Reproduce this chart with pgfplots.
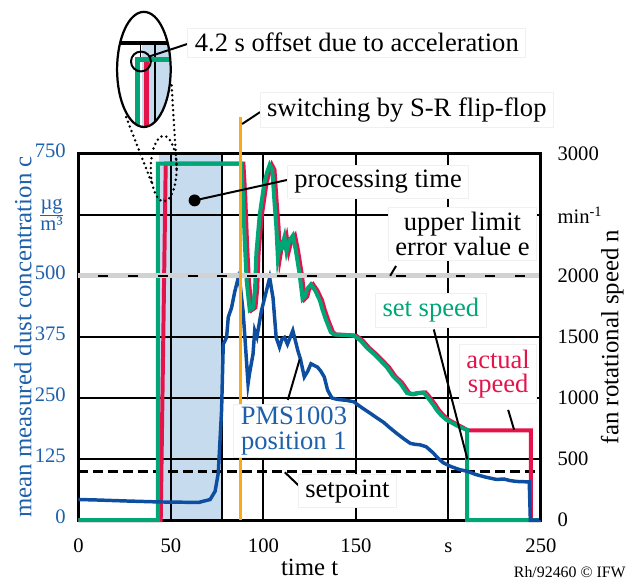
\documentclass[border=0pt]{standalone}
\usepackage{fontspec}
\setmainfont{Liberation Serif}
\usepackage{pgfplots}
\pgfplotsset{compat=1.18}
\definecolor{cgreen}{RGB}{0,166,118}
\definecolor{cred}{RGB}{228,20,75}
\definecolor{cblue}{RGB}{13,78,160}
\definecolor{tblue}{RGB}{30,96,170}
\definecolor{corange}{RGB}{250,170,20}
\definecolor{cshade}{RGB}{198,219,238}
\tikzset{
  lbl/.style={fill=white, draw=gray!12, inner xsep=2.8pt, inner ysep=2pt,
    font=\fontsize{10.7}{10}\selectfont, align=center},
  ptr/.style={black, line width=0.8pt},
  dots/.style={line width=1.1pt, line cap=round, dash pattern=on 0pt off 2pt},
}
\begin{document}
\begin{tikzpicture}
\begin{axis}[
  set layers,
  scale only axis, width=186.4pt, height=147.6pt,
  xmin=0, xmax=250, ymin=0, ymax=750,
  clip=false,
  axis line style={line width=1.2pt},
  grid=major, major grid style={black, line width=0.8pt},
  major tick length=0pt,
  xtick={0,50,100,150,200,250},
  xticklabels={0,50,100,150,s,250},
  ytick={0,125,250,375,500,625,750},
  yticklabels={0,125,250,375,500,{$\frac{\mbox{µg}}{\mbox{m³}}$},750},
  /pgf/number format/assume math mode=true,
  typeset ticklabels with strut,
  every tick label/.append style={font=\fontsize{8.3}{8}\selectfont},
  xticklabel style={yshift=-4pt},
  yticklabel style={text=tblue, xshift=-1.6pt},
  label style={font=\fontsize{10.7}{12}\selectfont, inner sep=0pt},
  every axis x label/.style={at={(rel axis cs:0.5,-0.130)}, anchor=center},
  every axis y label/.style={at={(rel axis cs:-0.12,0.5)}, rotate=90, anchor=center},
  xlabel={time t},
  ylabel={mean measured dust concentration c},
  ylabel style={text=tblue},
]
% processing time region
\addplot[draw=none, fill=cshade, on layer=axis background] coordinates {(43.5,0) (43.5,750) (77.4,750) (77.4,0)} -- cycle;
\addplot[black, line width=0.8pt] coordinates {(77.4,0) (77.4,750)};
% setpoint
\addplot[black, line width=1.1pt, dash pattern=on 4pt off 2pt] coordinates {(0,100) (250,100)};
% actual speed (rpm)
\addplot[cred, line width=1.6pt, y filter/.expression={y/4}] coordinates {
(0,0) (44.5,0) (47.2,2920) (89.2,2920) (90.2,2650) (91.2,2250) (92.2,1950) (93.8,1720)
(95.7,1740) (96.7,1900) (97.4,2190) (99.2,2500) (101.7,2760) (103.2,2850) (104.6,2910)
(106,2870) (107.2,2600) (108.2,2400) (109,2150) (110.2,2260) (111.2,2240) (112.6,2320)
(113.7,2200) (114.7,2260) (115.7,2300) (117.1,2330) (118.7,2210) (120.7,2020) (122.4,1810)
(123.7,1830) (124.7,1890) (126.9,1930) (129.2,1880) (131.7,1800) (133.2,1720) (135,1640)
(137.6,1540) (139.2,1520) (146.2,1515) (150.2,1510) (153.7,1470) (157.2,1410) (160.9,1360)
(164.2,1310) (168,1250) (171.2,1180) (175.2,1120) (178.8,1040) (181.2,1030) (184.2,1040)
(187.7,1045) (189.2,1020) (191.2,980) (193.2,940) (194.9,900) (197.2,860) (200.2,820)
(203.2,795) (205.6,775) (208.2,755) (210.1,735) (244.6,735) (244.6,0) (250,0)};
% set speed (rpm)
\addplot[cgreen, line width=1.6pt, y filter/.expression={y/4}] coordinates {
(0,0) (42.9,0) (42.9,2920) (88,2920) (89,2650) (90,2250) (91,1950) (92.6,1720)
(94.5,1740) (95.5,1900) (96.2,2190) (98,2500) (100.5,2760) (102,2850) (103.4,2910)
(104.8,2870) (106,2600) (107,2400) (107.8,2150) (109,2260) (110,2240) (111.4,2320)
(112.5,2200) (113.5,2260) (114.5,2300) (115.9,2330) (117.5,2210) (119.5,2020) (121.2,1810)
(122.5,1830) (123.5,1890) (125.7,1930) (128,1880) (130.5,1800) (132,1720) (133.8,1640)
(136.4,1540) (138,1520) (145,1515) (149,1510) (152.5,1470) (156,1410) (159.7,1360)
(163,1310) (166.8,1250) (170,1180) (174,1120) (177.6,1040) (180,1030) (183,1040)
(186.5,1045) (188,1020) (190,980) (192,940) (193.7,900) (196,860) (199,820)
(202,795) (204.4,775) (207,755) (210.1,740) (210.1,0) (250,0)};
% PMS1003 position 1
\addplot[cblue, line width=1.4pt] coordinates {
(0,42) (10,41) (25.6,39) (43.5,37) (65,36) (71.2,42) (73.9,59) (75.6,96) (76.5,160)
(77.4,225) (78.3,360) (80.1,374) (81,415) (82.8,435) (84.6,469) (86.4,496) (87.5,480)
(89,428) (90,374) (91.7,279) (92.5,300) (94.4,340) (95.3,388) (96.5,375) (98.9,428)
(101.6,469) (103.4,496) (105.2,455) (106.9,374) (108.7,354) (110,370) (111.4,374)
(113,360) (115.9,388) (118.6,347) (120,330) (122.1,293) (124,305) (125.7,320) (129.3,313)
(131,305) (132.9,293) (134.7,266) (137,250) (140,247) (145,245) (149,242) (151,236) (154,228)
(158,218) (161,210) (165,200) (168,190) (172.2,177) (176,166) (179.4,157) (182,155)
(184.7,154) (188,150) (191.9,137) (194,128) (197.3,117) (201,110) (206.2,103) (210,100)
(215,93) (220,88) (226,83) (230,84) (233,81) (236.6,79) (243.7,78) (244.3,0) (250,0)};
% upper limit
\addplot[gray!35, line width=2pt] coordinates {(0,500) (250,500)};
\addplot[black, line width=1pt, dash pattern=on 4pt off 8pt, dash phase=-8pt] coordinates {(0,500) (250,500)};
% switching
\addplot[corange, line width=1.2pt] coordinates {(87.5,0) (87.5,825)};

% annotations
\fill (axis cs:62.8,654.5) circle (2.4pt);
\draw[ptr] (axis cs:62.8,654.5) -- (axis cs:115.9,699);
\node[lbl] at (axis cs:162,693) {processing time};

\draw[ptr] (axis cs:168.5,500) -- (axis cs:171.7,520.3);
\node[lbl] at (axis cs:207.6,585.4) {upper limit\\error value e};

\draw[ptr] (axis cs:192.1,390.2) -- (axis cs:210.3,124);
\node[lbl, text=cgreen] at (axis cs:190.5,428.9) {set speed};

\draw[ptr] (axis cs:232.3,225.6) -- (axis cs:235.5,185);
\node[lbl, text=cred] at (axis cs:226.9,298.8) {actual\\speed};

\draw[ptr] (axis cs:113.2,246) -- (axis cs:119.6,329);
\node[lbl, text=tblue, inner ysep=1pt] at (axis cs:116.5,183) {PMS1003\\position 1};

\draw[ptr] (axis cs:111.6,97.6) -- (axis cs:121.2,63);
\node[lbl] at (axis cs:145.4,59) {setpoint};

\draw[ptr] (axis cs:88.5,811) -- (axis cs:98.2,835.4);
\node[lbl] at (axis cs:177.5,839.4) {switching by S-R flip-flop};

% magnified inset
\draw[dots] (axis cs:46.1,719.5) ellipse (5.2pt and 13.2pt);
\draw[dots] (axis cs:25.8,825) -- (axis cs:39.7,690);
\draw[dots] (axis cs:50.4,890) -- (axis cs:53.1,722);
\fill[white] (axis cs:35.4,922.8) ellipse (10.8pt and 23.2pt);
\begin{scope}
\clip (axis cs:35.4,922.8) ellipse (10.8pt and 23.2pt);
\fill[cshade] (axis cs:34.3,977.6) rectangle (axis cs:55,780);
\draw[black, line width=0.6pt] (axis cs:41.3,977.6) -- (axis cs:41.3,780);
\draw[black, line width=0.6pt] (axis cs:33.5,977.6) -- (axis cs:33.5,943);
\draw[cgreen, line width=2pt] (axis cs:32.2,780) -- (axis cs:32.2,943) -- (axis cs:55,943);
\draw[cred, line width=2pt] (axis cs:37,780) -- (axis cs:37,937);
\draw[black, line width=1.6pt] (axis cs:15,977.6) -- (axis cs:55,977.6);
\end{scope}
\draw[line width=0.8pt] (axis cs:33.8,939) circle (4pt);
\draw[line width=0.9pt] (axis cs:35.4,922.8) ellipse (10.8pt and 23.2pt);
\draw[ptr] (axis cs:38.1,949) -- (axis cs:59.5,975.6);
\node[lbl] at (axis cs:150.5,977.6) {4.2 s offset due to acceleration};

\node[font=\fontsize{6.4}{7}\selectfont, inner sep=0pt, anchor=south east] at (axis cs:296.1,-120) {Rh/92460 © IFW};
\path (axis cs:-42.38,1065) rectangle (axis cs:296.67,-124);
\end{axis}
\begin{axis}[
  scale only axis, width=186.4pt, height=147.6pt,
  xmin=0, xmax=250, ymin=0, ymax=3000,
  axis x line=none, axis y line*=right,
  axis line style={line width=1.2pt},
  major tick length=0pt,
  ytick={0,500,1000,1500,2000,2500,3000},
  yticklabels={0,500,1000,1500,2000,min\textsuperscript{-1},3000},
  /pgf/number format/assume math mode=true,
  every tick label/.append style={font=\fontsize{8.3}{8}\selectfont},
  yticklabel style={xshift=3.2pt},
  label style={font=\fontsize{10.7}{12}\selectfont, inner sep=0pt},
  every axis y label/.style={at={(rel axis cs:1.1545,0.5)}, rotate=90, anchor=center},
  ylabel={fan rotational speed n},
]
\addplot[draw=none] coordinates {(0,0) (250,3000)};
\end{axis}
\end{tikzpicture}
\end{document}
